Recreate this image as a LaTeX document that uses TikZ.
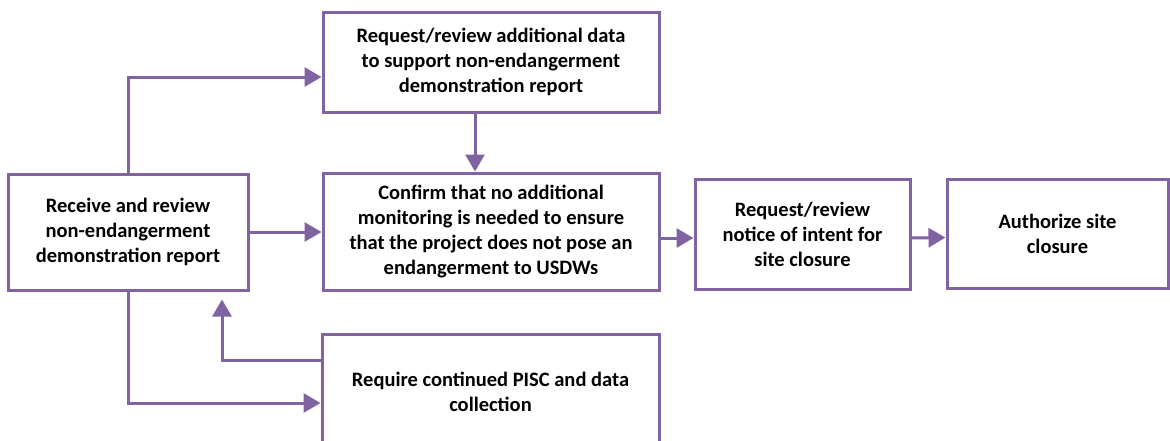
\documentclass[tikz,border=0pt]{standalone}
\usepackage{fontspec}
\setmainfont{Carlito}
\usetikzlibrary{arrows.meta}
\definecolor{boxpurple}{HTML}{8064A2}
\begin{document}
\begin{tikzpicture}[x=1pt, y=-1pt,
    box/.style={draw=boxpurple, line width=3pt, fill=white, align=center,
      font=\fontsize{20.5}{25}\selectfont\bfseries, inner sep=0pt},
    flow/.style={draw=boxpurple, line width=3pt,
      -{Triangle[length=17pt, width=19pt]}}]
    \useasboundingbox (0,0) rectangle (1170,440) ;
    \clip (0,0) rectangle (1170,440) ;
    \fill[white] (0,0) rectangle (1170,440) ;
    \node [box, minimum width=240pt, minimum height=116pt] at (128,232) (recv)
      {Receive and review\\non-endangerment\\demonstration report} ;
    \node [box, minimum width=336pt, minimum height=100pt] at (491,62) (addl)
      {Request/review additional data\\to support non-endangerment\\demonstration report} ;
    \node [box, minimum width=336pt, minimum height=117pt] at (491,231.5) (conf)
      {Confirm that no additional\\monitoring is needed to ensure\\that the project does not pose an\\endangerment to USDWs} ;
    \node [box, minimum width=215pt, minimum height=110pt] at (802.5,234) (notice)
      {Request/review\\notice of intent for\\site closure} ;
    \node [box, minimum width=221pt, minimum height=109pt] at (1057.5,233.5) (auth)
      {Authorize site\\closure} ;
    \node [box, minimum width=337pt, minimum height=116pt] at (490.5,392) (pisc)
      {Require continued PISC and data\\collection} ;
    \draw[flow] (recv.north) |- ([yshift=-15pt]addl.west) ;
    \draw[flow] ([xshift=-16pt]addl.south) -- ([xshift=-16pt]conf.north) ;
    \draw[flow] (recv.east) -- (recv.east -| conf.west) ;
    \draw[flow] ([yshift=-4pt]notice.west -| conf.east) -- ([yshift=-4pt]notice.west) ;
    \draw[flow] ([yshift=-4pt]notice.east) -- ([yshift=-4pt]auth.west) ;
    \draw[flow] (recv.south) |- ([yshift=-11pt]pisc.west) ;
    \draw[flow] ([yshift=32pt]pisc.west) -| ([xshift=94pt, yshift=-8pt]recv.south) ;
  \end{tikzpicture}
\end{document}
